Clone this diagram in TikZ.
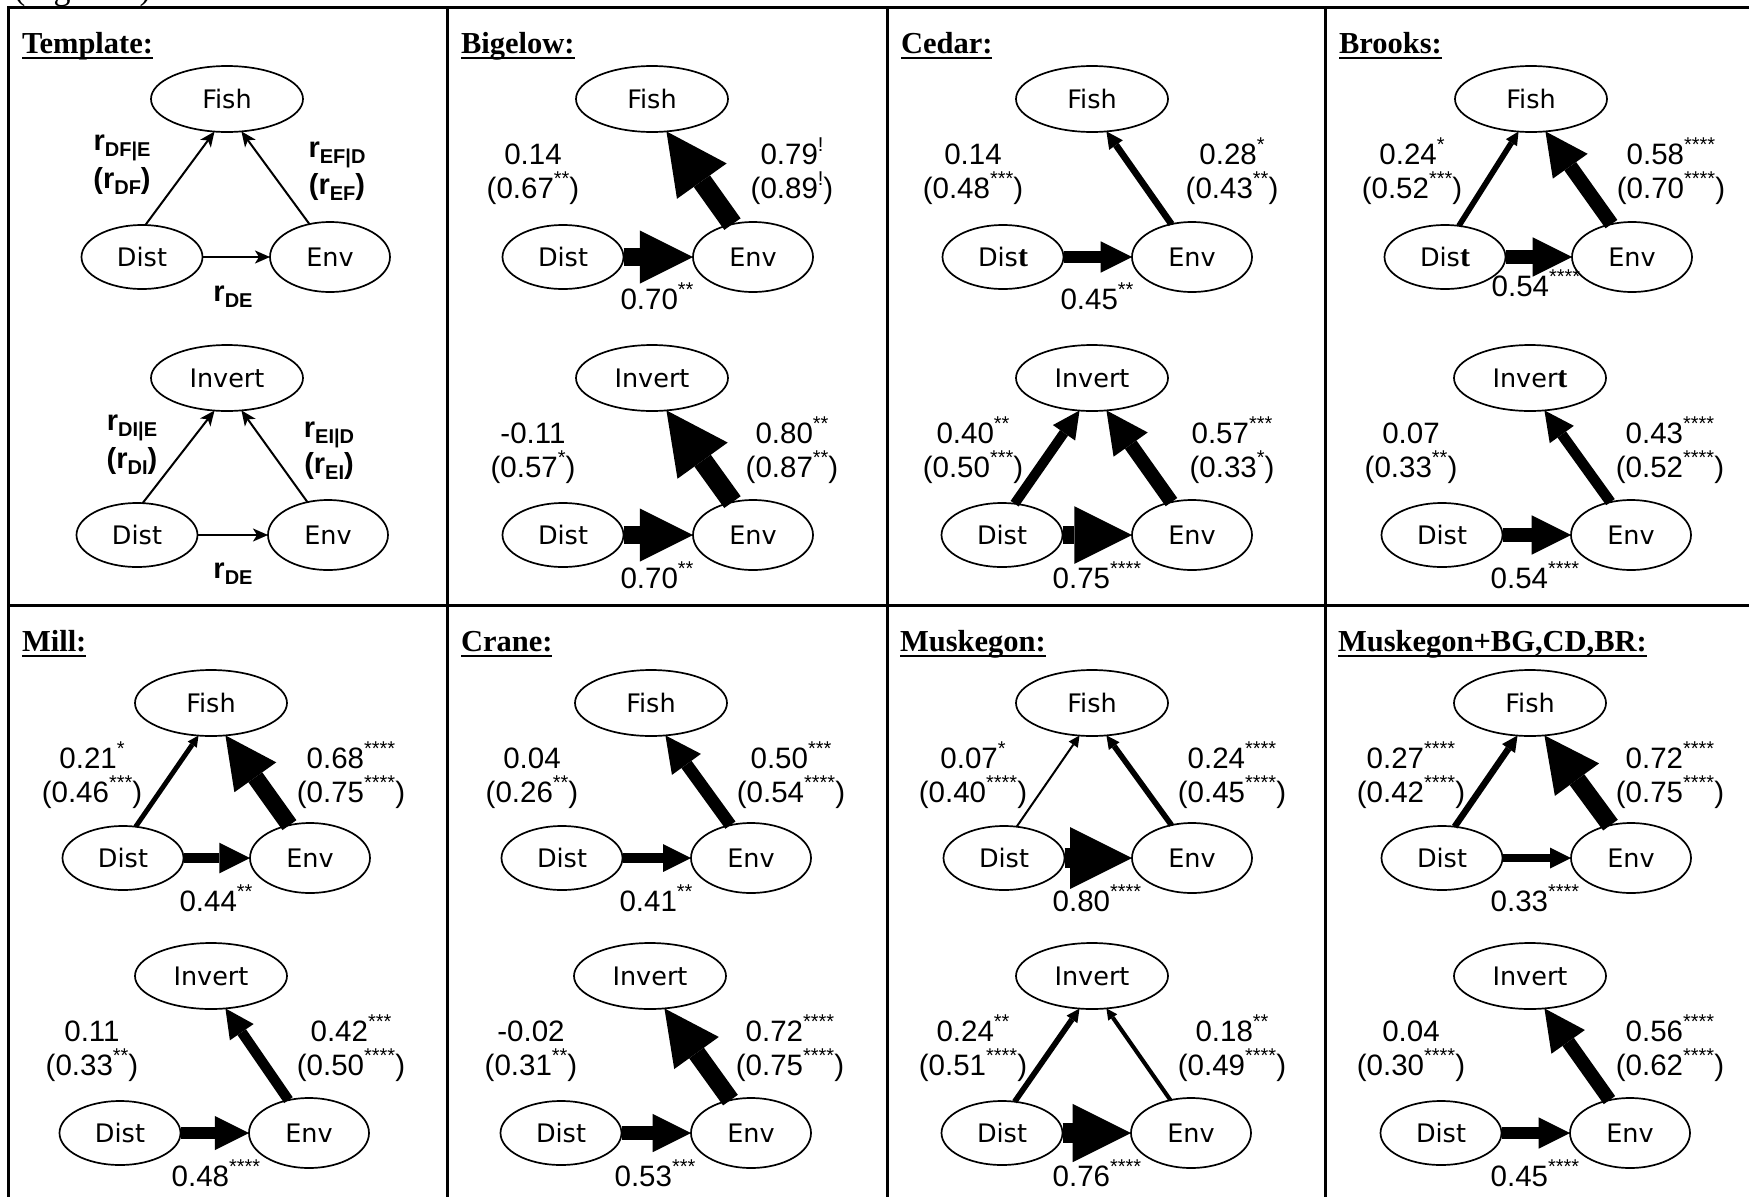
\documentclass[tikz,border=0pt]{standalone}
\usepackage{fontspec}
\setmainfont{Liberation Serif}
\newfontfamily\sansnum{Liberation Sans}
\newfontfamily\sansnode{DejaVu Sans}
\usetikzlibrary{shapes.geometric,arrows.meta}

% text sizes (1pt = 1 output pixel)
\newcommand\numsize{\sansnum\fontsize{29.5}{34}\selectfont}
\newcommand\nodesize{\sansnode\fontsize{25.5}{30}\selectfont}
% significance marks set as small raised symbols
\newcommand\sig[1]{\raisebox{13pt}{\fontsize{20}{20}\selectfont #1}}
% the bold serif "t" used in a few node names
\newcommand\bt{{\rmfamily\bfseries\fontsize{30}{32}\selectfont t}}
% underlined panel heading
\newsavebox\ulbox
\newcommand\ulhead[1]{\sbox\ulbox{#1}\rlap{\rule[-6pt]{\wd\ulbox}{2.4pt}}\usebox\ulbox}
% bold r with subscript
\newcommand\rsub[1]{\textbf{r\raisebox{-6pt}{\fontsize{20}{20}\selectfont #1}}}

\tikzset{
  every node/.style={inner sep=0pt, outer sep=0pt},
  ell/.style={draw, ellipse, line width=1.7pt, font=\nodesize, fill=white},
  topell/.style={ell, minimum width=152pt, minimum height=66pt},
  distell/.style={ell, minimum width=121pt, minimum height=64pt},
  envell/.style={ell, minimum width=120pt, minimum height=70pt},
  lab/.style={anchor=base, font=\numsize},
  tlab/.style={anchor=base, font=\sansnum\fontsize{29}{34}\selectfont},
  ttl/.style={anchor=base west, font=\rmfamily\bfseries\fontsize{30.5}{36}\selectfont},
  gridline/.style={line width=3pt},
  thinarr/.style={line width=2pt, -{Stealth[length=15pt,width=13pt,inset=4pt]}},
}

% one triangle of ellipses: id, top text, top x, top y, Dist x, Env x, base y, Dist text
\newcommand\tri[8]{%
  \node[topell] (#1t) at (#3,#4) {#2};
  \node[distell] (#1d) at (#5,#7) {#8};
  \node[envell] (#1e) at (#6,#7) {Env};}

% block arrow whose thickness follows the coefficient
\newcommand\blockarr[3]{%
  \pgfmathsetmacro\shw{max(2,26*#1-0.6)}%
  \pgfmathsetmacro\hdw{max(11,87*#1-7.7)}%
  \draw[line width=\shw pt,-{Triangle[width=\hdw pt,length=\hdw pt,line width=0pt]}] (#2) -- (#3);}

% coefficient labels beside the two slanted sides
\newcommand\sidelabs[5]{%
  \node[lab] (#1la) at ([shift={(-119,65)}]#1t.center) {#2};
  \node[lab] (#1lb) at ([shift={(-119,99)}]#1t.center) {#3};
  \node[lab] (#1ra) at ([shift={(140,65)}]#1t.center) {#4};
  \node[lab] (#1rb) at ([shift={(140,99)}]#1t.center) {#5};}
% coefficient label under the base
\newcommand\botlab[3]{%
  \node[lab] (#1b) at ([shift={(5,#3)}]#1t.center) {#2};}

\begin{document}
\begin{tikzpicture}[x=1pt,y=-1pt]
\useasboundingbox (0,0) rectangle (1749,1197);
\clip (0,0) rectangle (1749,1197);
\fill[white] (0,0) rectangle (1749,1197);

% caption line above the table
\node[anchor=base west, font=\rmfamily\fontsize{34}{40}\selectfont] (cap) at (14,-1) {(Figure 4)};

% table rules
\draw[gridline] (8,7) rectangle (1764,1210);
\draw[gridline] (447,7) -- (447,1210);
\draw[gridline] (887,7) -- (887,1210);
\draw[gridline] (1325,7) -- (1325,1210);
\draw[gridline] (8,605) -- (1764,605);

% headings
\node[ttl] (h1) at (22,53) {\ulhead{Template:}};
\node[ttl] (h2) at (461,53) {\ulhead{Bigelow:}};
\node[ttl] (h3) at (901,53) {\ulhead{Cedar:}};
\node[ttl] (h4) at (1339,53) {\ulhead{Brooks:}};
\node[ttl] (h5) at (22,651) {\ulhead{Mill:}};
\node[ttl] (h6) at (461,651) {\ulhead{Crane:}};
\node[ttl] (h7) at (900,651) {\ulhead{Muskegon:}};
\node[ttl] (h8) at (1338,651) {\ulhead{Muskegon+BG,CD,BR:}};

% ---------- Template ----------
\tri{TF}{Fish}{227}{99}{142}{330}{257}{Dist}
\draw[thinarr] (TFd.84) -- (TFt.249);
\draw[thinarr] (TFe.122) -- (TFt.294);
\draw[thinarr] (TFd.east) -- (TFe.west);
\node[tlab] (TFla) at ([shift={(-105,51)}]TFt.center) {\rsub{DF|E}};
\node[tlab] (TFlb) at ([shift={(-105,89)}]TFt.center) {\textbf{(}\rsub{DF}\textbf{)}};
\node[tlab] (TFra) at ([shift={(110,58)}]TFt.center) {\rsub{EF|D}};
\node[tlab] (TFrb) at ([shift={(110,95)}]TFt.center) {\textbf{(}\rsub{EF}\textbf{)}};
\node[tlab] (TFb) at ([shift={(6,202)}]TFt.center) {\rsub{DE}};

\tri{TI}{Invert}{227}{378}{137}{328}{535}{Dist}
\draw[thinarr] (TId.80) -- (TIt.249);
\draw[thinarr] (TIe.122) -- (TIt.294);
\draw[thinarr] (TId.east) -- (TIe.west);
\node[tlab] (TIla) at ([shift={(-95,52)}]TIt.center) {\rsub{DI|E}};
\node[tlab] (TIlb) at ([shift={(-95,90)}]TIt.center) {\textbf{(}\rsub{DI}\textbf{)}};
\node[tlab] (TIra) at ([shift={(102,59)}]TIt.center) {\rsub{EI|D}};
\node[tlab] (TIrb) at ([shift={(102,95)}]TIt.center) {\textbf{(}\rsub{EI}\textbf{)}};
\node[tlab] (TIb) at ([shift={(6,200)}]TIt.center) {\rsub{DE}};

% ---------- Bigelow ----------
\tri{BF}{Fish}{652}{99}{563}{753}{257}{Dist}
\blockarr{0.79}{BFe.122}{BFt.294}
\blockarr{0.70}{BFd.east}{BFe.west}
\sidelabs{BF}{0.14}{(0.67\sig{**})}{0.79\sig{!}}{(0.89\sig{!})}
\botlab{BF}{0.70\sig{**}}{210}

\tri{BI}{Invert}{652}{378}{563}{753}{535}{Dist}
\blockarr{0.80}{BIe.122}{BIt.294}
\blockarr{0.70}{BId.east}{BIe.west}
\sidelabs{BI}{-0.11}{(0.57\sig{*})}{0.80\sig{**}}{(0.87\sig{**})}
\botlab{BI}{0.70\sig{**}}{210}

% ---------- Cedar ----------
\tri{CF}{Fish}{1092}{99}{1003}{1192}{257}{Dis\bt}
\blockarr{0.28}{CFe.122}{CFt.294}
\blockarr{0.45}{CFd.east}{CFe.west}
\sidelabs{CF}{0.14}{(0.48\sig{***})}{0.28\sig{*}}{(0.43\sig{**})}
\botlab{CF}{0.45\sig{**}}{210}

\tri{CI}{Invert}{1092}{378}{1002}{1192}{535}{Dist}
\blockarr{0.40}{CId.68}{CIt.249}
\blockarr{0.57}{CIe.122}{CIt.294}
\blockarr{0.75}{CId.east}{CIe.west}
\sidelabs{CI}{0.40\sig{**}}{(0.50\sig{***})}{0.57\sig{***}}{(0.33\sig{*})}
\botlab{CI}{0.75\sig{****}}{210}

% ---------- Brooks ----------
\tri{RF}{Fish}{1531}{99}{1445}{1632}{257}{Dis\bt}
\blockarr{0.24}{RFd.66}{RFt.249}
\blockarr{0.58}{RFe.122}{RFt.294}
\blockarr{0.54}{RFd.east}{RFe.west}
\sidelabs{RF}{0.24\sig{*}}{(0.52\sig{***})}{0.58\sig{****}}{(0.70\sig{****})}
\botlab{RF}{0.54\sig{****}}{197}

\tri{RI}{Inver\bt}{1530}{378}{1442}{1631}{535}{Dist}
\blockarr{0.43}{RIe.122}{RIt.294}
\blockarr{0.54}{RId.east}{RIe.west}
\sidelabs{RI}{0.07}{(0.33\sig{**})}{0.43\sig{****}}{(0.52\sig{****})}
\botlab{RI}{0.54\sig{****}}{210}

% ---------- Mill ----------
\tri{MF}{Fish}{211}{703}{123}{310}{858}{Dist}
\blockarr{0.21}{MFd.68}{MFt.249}
\blockarr{0.68}{MFe.122}{MFt.294}
\blockarr{0.44}{MFd.east}{MFe.west}
\sidelabs{MF}{0.21\sig{*}}{(0.46\sig{***})}{0.68\sig{****}}{(0.75\sig{****})}
\botlab{MF}{0.44\sig{**}}{208}

\tri{MI}{Invert}{211}{976}{120}{309}{1133}{Dist}
\blockarr{0.42}{MIe.122}{MIt.294}
\blockarr{0.48}{MId.east}{MIe.west}
\sidelabs{MI}{0.11}{(0.33\sig{**})}{0.42\sig{***}}{(0.50\sig{****})}
\botlab{MI}{0.48\sig{****}}{210}

% ---------- Crane ----------
\tri{KF}{Fish}{651}{703}{562}{751}{858}{Dist}
\blockarr{0.50}{KFe.122}{KFt.294}
\blockarr{0.41}{KFd.east}{KFe.west}
\sidelabs{KF}{0.04}{(0.26\sig{**})}{0.50\sig{***}}{(0.54\sig{****})}
\botlab{KF}{0.41\sig{**}}{208}

\tri{KI}{Invert}{650}{976}{561}{751}{1133}{Dist}
\blockarr{0.72}{KIe.122}{KIt.294}
\blockarr{0.53}{KId.east}{KIe.west}
\sidelabs{KI}{-0.02}{(0.31\sig{**})}{0.72\sig{****}}{(0.75\sig{****})}
\botlab{KI}{0.53\sig{***}}{210}

% ---------- Muskegon ----------
\tri{SF}{Fish}{1092}{703}{1004}{1192}{858}{Dist}
\blockarr{0.07}{SFd.68}{SFt.249}
\blockarr{0.24}{SFe.122}{SFt.294}
\blockarr{0.80}{SFd.east}{SFe.west}
\sidelabs{SF}{0.07\sig{*}}{(0.40\sig{****})}{0.24\sig{****}}{(0.45\sig{****})}
\botlab{SF}{0.80\sig{****}}{208}

\tri{SI}{Invert}{1092}{976}{1002}{1191}{1133}{Dist}
\blockarr{0.24}{SId.68}{SIt.249}
\blockarr{0.18}{SIe.122}{SIt.294}
\blockarr{0.76}{SId.east}{SIe.west}
\sidelabs{SI}{0.24\sig{**}}{(0.51\sig{****})}{0.18\sig{**}}{(0.49\sig{****})}
\botlab{SI}{0.76\sig{****}}{210}

% ---------- Muskegon+BG,CD,BR ----------
\tri{PF}{Fish}{1530}{703}{1442}{1631}{858}{Dist}
\blockarr{0.27}{PFd.68}{PFt.249}
\blockarr{0.72}{PFe.122}{PFt.294}
\blockarr{0.33}{PFd.east}{PFe.west}
\sidelabs{PF}{0.27\sig{****}}{(0.42\sig{****})}{0.72\sig{****}}{(0.75\sig{****})}
\botlab{PF}{0.33\sig{****}}{208}

\tri{PI}{Invert}{1530}{976}{1441}{1630}{1133}{Dist}
\blockarr{0.56}{PIe.122}{PIt.294}
\blockarr{0.45}{PId.east}{PIe.west}
\sidelabs{PI}{0.04}{(0.30\sig{****})}{0.56\sig{****}}{(0.62\sig{****})}
\botlab{PI}{0.45\sig{****}}{210}
\end{tikzpicture}
\end{document}
